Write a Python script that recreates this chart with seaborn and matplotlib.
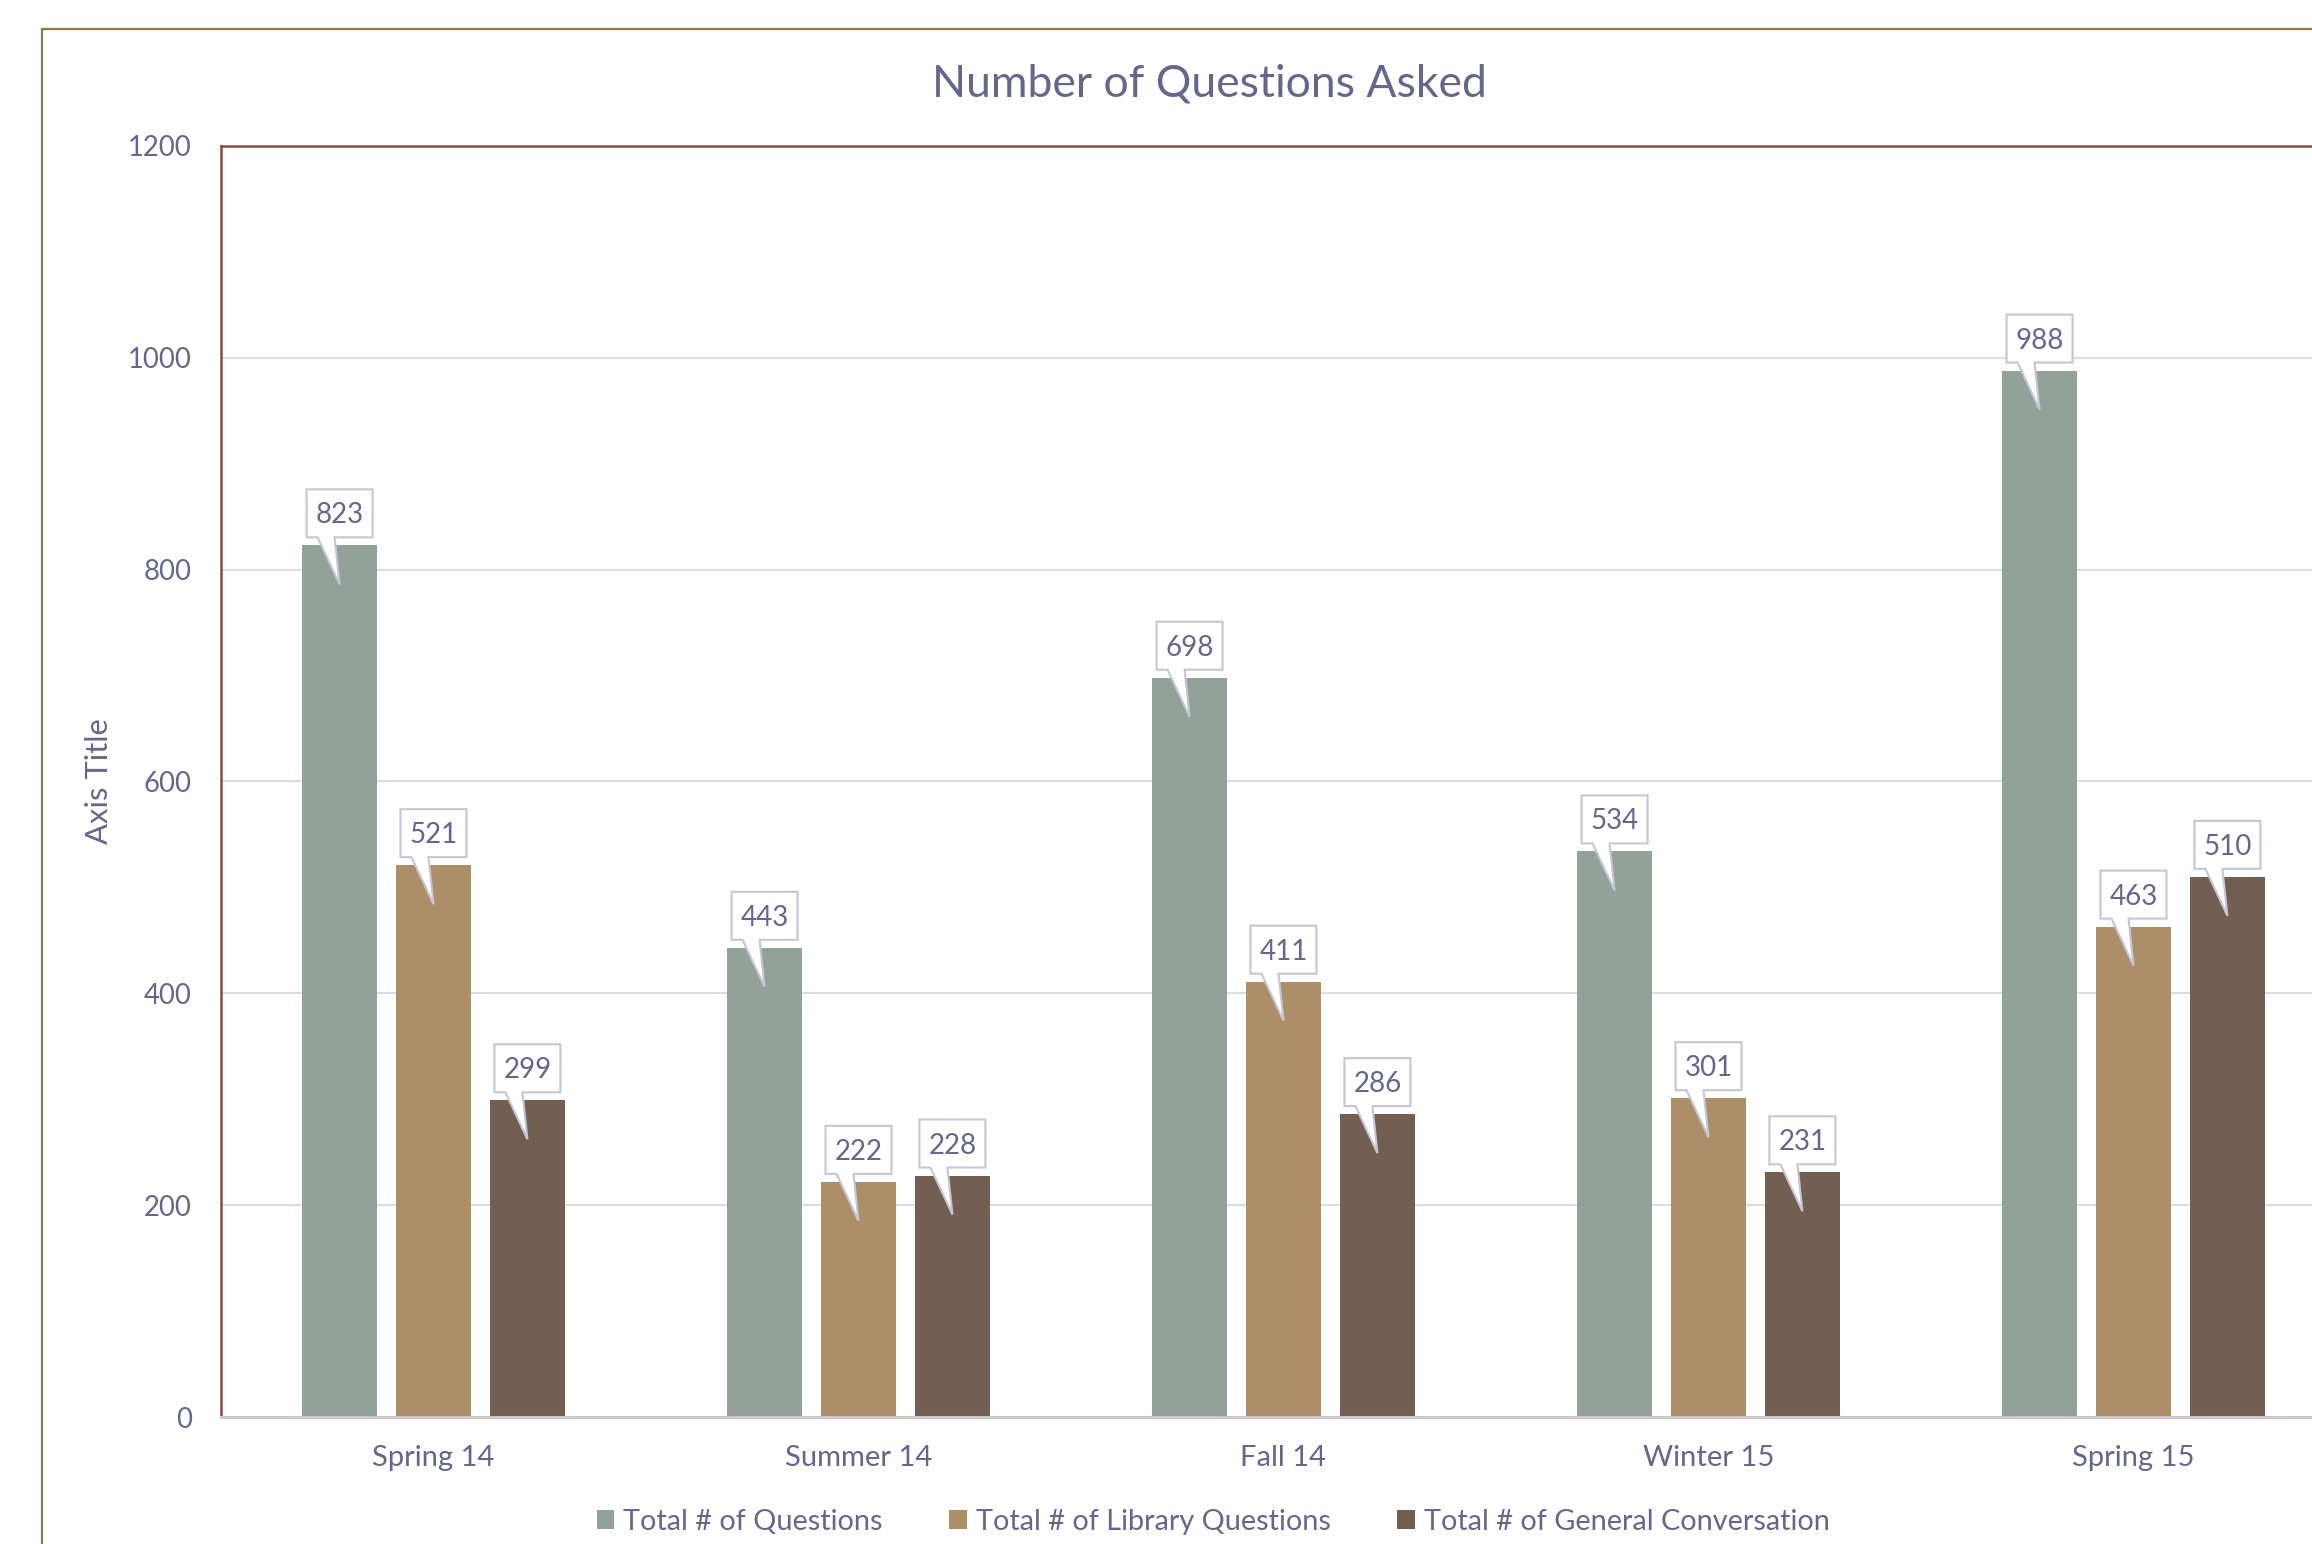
import matplotlib
matplotlib.use("Agg")
import matplotlib.pyplot as plt
import matplotlib.transforms as mtransforms
from matplotlib.patches import PathPatch, Rectangle
from matplotlib.path import Path
import seaborn as sns
import pandas as pd

# ---- data ----
categories = ["Spring 14", "Summer 14", "Fall 14", "Winter 15", "Spring 15"]
total_questions = [823, 443, 698, 534, 988]
library_questions = [521, 222, 411, 301, 463]
general_conversation = [299, 228, 286, 231, 510]
series_names = ["Total # of Questions", "Total # of Library Questions",
                "Total # of General Conversation"]
y_ticks = [0, 200, 400, 600, 800, 1000, 1200]
title = "Number of Questions Asked"
y_title = "Axis Title"

colors = ["#93A299", "#AD8F67", "#725F52"]
text_color = "#66668A"

rows = []
for name, vals in zip(series_names, [total_questions, library_questions, general_conversation]):
    for c, v in zip(categories, vals):
        rows.append({"Season": c, "Count": v, "Series": name})
df = pd.DataFrame(rows)

sns.set_theme(style="white")
plt.rcParams['font.family'] = ['Lato', 'DejaVu Sans']

W, H = 2312, 1544
fig = plt.figure(figsize=(W / 100, H / 100), dpi=100)
fig.patch.set_facecolor("white")

# outer chart border (extends beyond the right/bottom of the image)
fig.patches.append(Rectangle((42 / W, -0.2), 2.0, 1 - 29 / H + 0.2,
                             transform=fig.transFigure, fill=False,
                             edgecolor="#8E7751", linewidth=1.6))

ax = fig.add_axes([221 / W, 1 - 1417 / H, 2125 / W, (1417 - 146) / H])

sns.barplot(data=df, x="Season", y="Count", hue="Series", order=categories,
            hue_order=series_names, palette=colors, width=0.663, gap=0.2,
            ax=ax, saturation=1, edgecolor="none")

handles, labels = ax.get_legend_handles_labels()
if ax.legend_ is not None:
    ax.legend_.remove()

ax.set_xlim(-0.5, 4.5)
ax.set_ylim(0, 1200)
ax.set_yticks(y_ticks)
ax.set_xlabel("")
ax.set_ylabel("")
ax.yaxis.grid(True, color="#DADAE3", linewidth=1.4)
ax.xaxis.grid(False)
ax.set_axisbelow(True)

for side in ["left", "top", "right"]:
    ax.spines[side].set_color("#864B41")
    ax.spines[side].set_linewidth(1.8)
ax.spines["bottom"].set_color("#CFC8CA")
ax.spines["bottom"].set_linewidth(2.2)

ax.tick_params(axis="y", length=0, pad=21, labelsize=19.8, labelcolor=text_color)
ax.tick_params(axis="x", length=0, pad=20.5, labelsize=21, labelcolor=text_color)

# callout data labels
verts = [(-33, 8), (-22, 8), (0, -39), (-5, 8), (33, 8), (33, 56), (-33, 56), (-33, 8)]
codes = [Path.MOVETO] + [Path.LINETO] * 6 + [Path.CLOSEPOLY]
callout = Path(verts, codes)
for cont in ax.containers:
    for bar in cont:
        x = bar.get_x() + bar.get_width() / 2
        h = bar.get_height()
        tr = mtransforms.Affine2D() + mtransforms.ScaledTranslation(x, h, ax.transData)
        ax.add_patch(PathPatch(callout, facecolor="white", edgecolor="#C5C5D8",
                               linewidth=1.5, transform=tr, clip_on=False, zorder=5))
        ax.text(x, h, f"{int(round(h))}", ha="center", va="center",
                fontsize=20, color=text_color, zorder=6, clip_on=False,
                transform=mtransforms.offset_copy(ax.transData, fig=fig, x=0, y=30, units="dots"))

fig.text(1209 / W, 1 - 84 / H, title, ha="center", va="center",
         fontsize=32, color=text_color)
fig.text(99 / W, 1 - 781 / H, y_title, ha="center", va="center",
         rotation=90, fontsize=22.3, color=text_color)

fig.legend(handles, labels, loc="center", bbox_to_anchor=(1213 / W, 1 - 1522 / H),
           ncol=3, frameon=False, fontsize=20.8, labelcolor=text_color,
           handlelength=0.62, handleheight=0.62, handletextpad=0.3,
           columnspacing=2.3, borderaxespad=0)

fig.savefig("out.png", dpi=100, facecolor="white")
